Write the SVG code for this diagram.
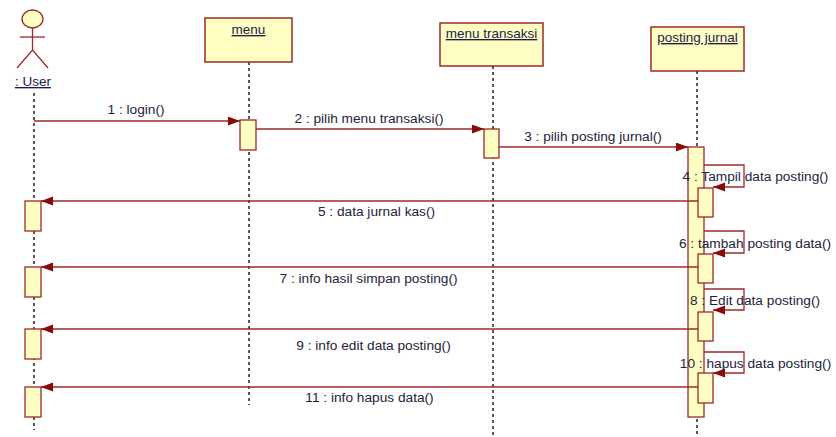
<svg xmlns="http://www.w3.org/2000/svg" width="836" height="437" viewBox="0 0 836 437">
<defs>
<style>
.box{fill:#FFFFC4;stroke:#A0282A;stroke-width:1.5}
.act{fill:#FFFFC4;stroke:#A0282A;stroke-width:1.3}
.life{stroke:#222;stroke-width:1.5;stroke-dasharray:3,3;fill:none}
.msg{stroke:#A0282A;stroke-width:1.3;fill:none;marker-end:url(#ah)}
.name{font-family:"Liberation Sans",Arial,sans-serif;font-size:13.5px;fill:#1c1c4a;text-anchor:middle;text-decoration:underline}
.lbl{font-family:"Liberation Sans",Arial,sans-serif;font-size:13.7px;fill:#23233a;text-anchor:middle}
.actor{stroke:#A0282A;stroke-width:1.3;fill:none}
</style>
<marker id="ah" markerUnits="userSpaceOnUse" markerWidth="13" markerHeight="10" refX="12" refY="4.5" orient="auto">
<path d="M0,0 L12,4.5 L0,9 z" fill="#8A0A0A"/>
</marker>
</defs>
<rect width="836" height="437" fill="#fff"/>

<g id="user">
<line class="life" x1="34" y1="93" x2="34" y2="430"/>
<ellipse cx="32.5" cy="19" rx="10.5" ry="9" fill="#FFFFC4" stroke="#A0282A" stroke-width="1.3"/>
<line class="actor" x1="32.5" y1="28" x2="32.5" y2="50"/>
<line class="actor" x1="20" y1="37" x2="45" y2="37"/>
<path class="actor" d="M17,68 L32.5,50 L48,68"/>
<text class="name" x="33" y="86">: User</text>
<rect class="act" x="25" y="201" width="16" height="30"/>
<rect class="act" x="25" y="267" width="16" height="30"/>
<rect class="act" x="25" y="329" width="16" height="30"/>
<rect class="act" x="25" y="387" width="16" height="30"/>
</g>

<g id="menu">
<line class="life" x1="249" y1="62" x2="249" y2="405"/>
<rect class="box" x="205" y="18" width="87" height="44"/>
<text class="name" x="248.5" y="34">menu</text>
<rect class="act" x="240" y="120" width="16" height="30"/>
</g>

<g id="menu-transaksi">
<line class="life" x1="493" y1="66" x2="493" y2="437"/>
<rect class="box" x="440" y="23" width="103" height="43"/>
<text class="name" x="491.5" y="38">menu transaksi</text>
<rect class="act" x="484" y="129" width="15" height="29"/>
</g>

<g id="posting-jurnal">
<line class="life" x1="697" y1="71" x2="697" y2="437"/>
<rect class="box" x="651" y="27" width="93" height="44"/>
<text class="name" x="697.5" y="42">posting jurnal</text>
<rect class="act" x="688" y="147" width="16" height="270"/>
<rect class="act" x="698" y="188" width="15" height="29"/>
<rect class="act" x="698" y="254" width="15" height="29"/>
<rect class="act" x="698" y="312" width="15" height="29"/>
<rect class="act" x="698" y="373" width="15" height="30"/>
</g>

<g id="connectors">
<line class="msg" x1="34" y1="121" x2="240" y2="121"/>
<text class="lbl" x="136" y="114">1 : login()</text>
<line class="msg" x1="256" y1="129" x2="484" y2="129"/>
<text class="lbl" x="369" y="123">2 : pilih menu transaksi()</text>
<line class="msg" x1="499" y1="147" x2="688" y2="147"/>
<text class="lbl" x="593" y="141">3 : pilih posting jurnal()</text>

<path class="msg" d="M704,165 H744 V187 H713"/>
<text class="lbl" x="755.5" y="181">4 : Tampil data posting()</text>
<line class="msg" x1="698" y1="201" x2="41" y2="201"/>
<text class="lbl" x="376.5" y="216">5 : data jurnal kas()</text>

<path class="msg" d="M704,231 H744 V253 H713"/>
<text class="lbl" x="755" y="248">6 : tambah posting data()</text>
<line class="msg" x1="698" y1="267" x2="41" y2="267"/>
<text class="lbl" x="368.5" y="283">7 : info hasil simpan posting()</text>

<path class="msg" d="M704,289 H744 V310 H713"/>
<text class="lbl" x="755" y="305">8 : Edit data posting()</text>
<line class="msg" x1="698" y1="329" x2="41" y2="329"/>
<text class="lbl" x="373.5" y="350">9 : info edit data posting()</text>

<path class="msg" d="M704,352 H744 V373 H713"/>
<text class="lbl" x="755.5" y="368">10 : hapus data posting()</text>
<line class="msg" x1="698" y1="387" x2="41" y2="387"/>
<text class="lbl" x="369.5" y="402">11 : info hapus data()</text>
</g>
</svg>
